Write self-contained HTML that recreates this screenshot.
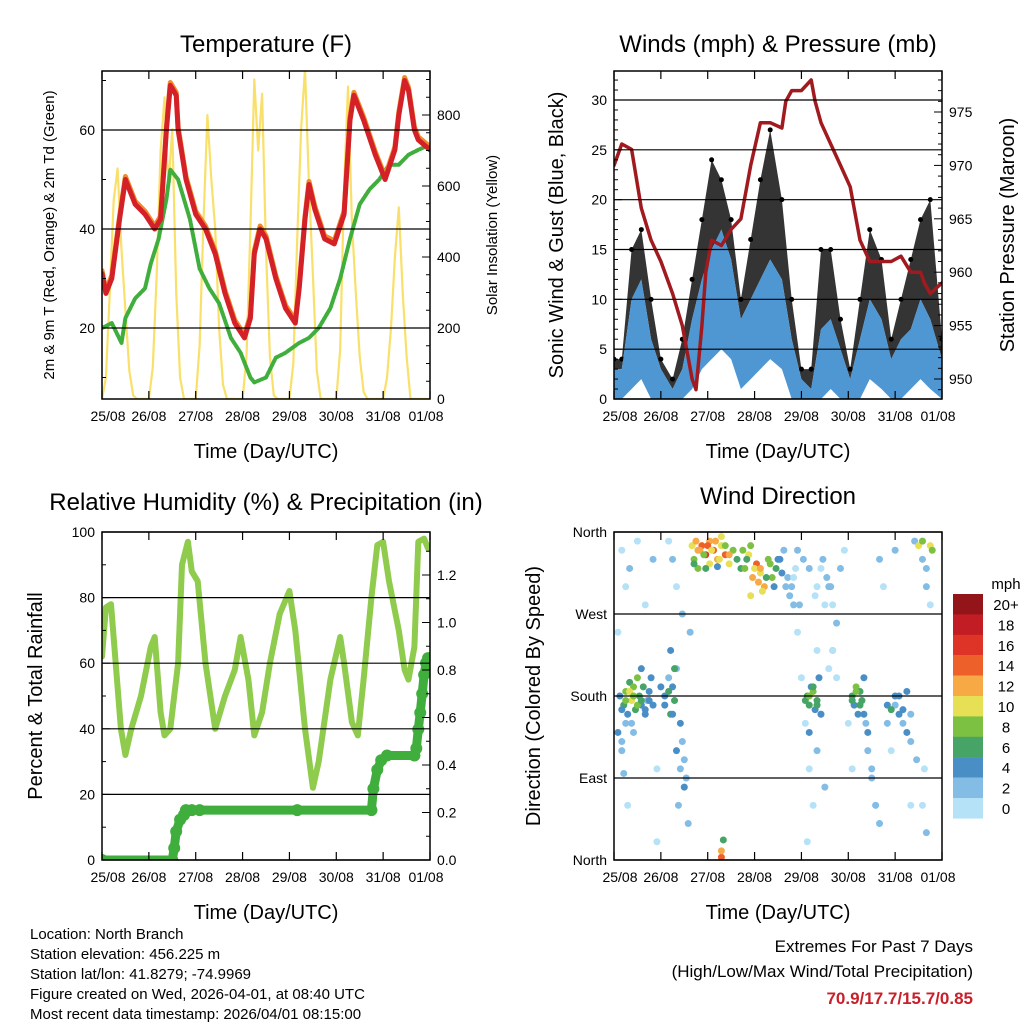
<!DOCTYPE html>
<html><head><meta charset="utf-8"><style>
html,body{margin:0;padding:0;background:#fff;}
svg{display:block;font-family:"Liberation Sans",sans-serif;}
</style></head><body>
<svg id="c" width="1024" height="1024" viewBox="0 0 1024 1024"></svg>
<script>
// ---------- DATA ----------
const dayLabels = ["25/08","26/08","27/08","28/08","29/08","30/08","31/08","01/08"];
const tempHours = [0,2,5,9,12,17,22,27,30,33,35,38,39,43,48,53,58,63,68,73,76,78,81,84,89,94,99,101,104,106,109,114,119,124,127,129,134,140,145,150,152,155,157,160,162,168];
const tempVals  = [31,27,30,42,50,45,43,40,42,60,69,67,60,50,43,40,35,27,21,18,22,35,40,38,30,24,21,28,42,49,44,38,37,43,62,67,62,55,50,56,63,70,68,60,58,56];
const dewHours = [0,5,10,12,17,22,25,29,33,35,39,45,50,55,60,66,71,76,78,84,89,94,101,106,111,117,122,127,132,137,142,147,152,157,162,168];
const dewVals  = [20,21,17,22,26,28,33,38,46,52,50,42,32,28,25,18,15,10,9,10,14,15,17,18,20,24,30,38,45,48,50,53,53,55,56,57];
const solarVals = [0,60,300,560,650,420,250,80,10,0,0,0,
                   0,90,350,700,850,600,760,300,60,0,0,0,
                   0,150,500,800,620,480,200,40,0,0,0,0,
                   0,120,480,900,700,860,420,120,10,0,0,0,
                   0,100,450,760,930,600,350,80,0,0,0,0,
                   0,140,600,880,500,300,120,20,0,0,0,0,
                   0,60,200,400,540,300,120,0,0,0,0,0,0];
const windHours = [0,4,9,14,19,24,30,35,40,45,50,55,60,65,70,75,80,86,91,96,101,106,111,116,121,126,131,137,142,147,152,157,162,168];
const windLo    = [0,0,1,2,0,0,0,0,1,3,4,5,4,1,2,3,4,3,0,0,0,0,1,0,0,0,2,1,0,0,1,2,1,0];
const windHi    = [3,3,10,12,6,3,1,3,8,12,15,17,14,8,10,12,14,12,6,2,1,7,8,5,2,6,10,8,4,6,7,10,8,4];
const gustHi    = [4,4,15,17,10,4,2,6,12,18,24,22,18,10,16,22,27,20,10,3,3,15,15,8,3,10,17,14,6,10,14,18,20,6];
const presHours = [0,4,9,14,19,24,30,35,40,42,45,47,50,55,60,65,70,75,80,86,88,91,96,101,103,106,111,116,121,126,131,137,142,147,152,157,159,162,168];
const presVals  = [970,972,971.5,966,963,961,958,955,950,949,955,960,963,962.5,964,965,970,974,974,973.5,976,977,977,978,976,974,972,970,968,963,961,961,961,961.5,960,960,959,958,959];
const rhHours = [0,2,4.6,7,9.7,12,15,20,25,27,30,32,35,39,41,44,46,49,53,58,63,68,71,75,78,82,86,91,96,99,104,108,111,117,122,124,128,131,134,138,141,144,147,152,155,157,160,162,165,167];
const rhVals  = [62,77,78,60,40,32,40,50,65,68,45,38,40,60,90,97,88,85,60,40,50,58,68,55,38,45,60,75,82,70,40,22,30,55,68,60,42,38,55,80,96,97,85,70,58,55,65,97,98,95];
const rainHours = [0,36,37,38,40,42,43,46,50,100,138,139,141,143,146,160,161,162,163,164,165,166,167];
const rainVals  = [0,0,0.05,0.12,0.17,0.19,0.21,0.21,0.21,0.21,0.21,0.3,0.38,0.42,0.44,0.44,0.47,0.55,0.62,0.7,0.78,0.83,0.85];
const dirHours = [5,6,7,8,9,10,11,12,13,14,15,16,17,18,19,6,10,14,4,5, 4,6,8,12,16,20,2,7,22,22,
  26,28,29,30,31,32,34,35,36,37,33,38,30,32,28,35,39, 41,43,45,47,49,51,53,55,57,59,43,49,55,61,63,65,
  67,69,71,73,75,77,79,81,83,85,87,89,91,93, 55,55,56, 94,96,98,100,102,104,106,108,94,99,104,
  99,100,101,102,103,104,105,106, 110,112,114,116,118,110,112,120,122, 122,123,124,125,126,127,128,129,130,132,134,
  136,138,140,142,144,146,148,150,152,154,156,158,160,162,152,159,144,
  40,42,44,46,48,50,52,54,41,47,53,57,59,
  66,68,70,72,74,76,78,80,82,84,86,88,90,92,70,75,
  3,4,6,8,10,12,14,16,18,20,2,4,9,
  24,26,28,30,32,34,36,31,29,
  92,95,97,100,103,107,109,111,112,114,
  98,100,102,104,106,100,104,108,
  122,124,126,128,130,132,134,136,
  140,142,144,146,148,150,152,155,158,160,162,163,158,160];
const dirDeg = [170,185,160,195,175,190,165,200,180,170,190,160,175,185,200,150,140,210,120,95, 340,300,320,350,280,330,250,60,100,20,
  180,200,160,190,175,210,150,130,110,90,60,40,330,300,350,270,250, 330,340,345,335,350,340,330,345,335,325,320,325,355,340,330,320,
  320,335,310,325,315,300,330,310,320,330,340,310,300,320, 3,10,22, 250,200,150,100,60,300,320,280,340,20,230,
  180,170,190,185,165,175,200,160, 300,280,260,320,340,210,230,150,100, 180,170,190,160,185,175,200,150,120,90,60,
  330,300,150,120,170,180,165,185,160,350,345,350,320,280,60,100,340,
  345,350,340,335,345,340,350,330,325,320,322,345,335,
  340,330,345,320,305,295,310,325,300,330,315,300,290,280,290,320,
  180,165,175,185,180,170,175,165,175,170,140,130,150,
  190,170,185,160,120,100,80,210,230,
  310,280,330,320,290,330,310,300,230,200,
  175,180,190,170,160,140,120,80,
  175,185,170,160,140,100,60,40,
  170,165,180,160,150,140,130,110,60,30,345,340,330,300];
const dirSpd = [6,8,5,7,10,9,6,8,7,5,6,4,3,5,4,3,3,4,2,2, 1,0,2,1,1,2,1,1,0,1,
  4,3,6,5,7,3,4,2,3,2,3,2,2,1,1,2,2, 8,12,14,16,13,15,12,11,14,10,9,11,10,8,7,6,
  8,10,12,14,11,13,9,8,6,4,3,2,2,1, 14,12,6, 1,0,1,0,1,0,1,0,2,1,1,
  6,7,5,8,4,6,5,3, 2,1,2,2,1,1,2,1,1, 6,5,8,4,6,7,4,3,3,2,1,
  2,1,2,1,3,4,5,4,3,3,10,8,2,1,1,1,2,
  10,12,13,9,14,11,12,10,6,6,5,9,12,
  8,6,9,11,12,10,7,8,5,4,4,3,2,2,11,12,
  4,5,8,10,9,8,6,5,4,5,4,3,3,
  4,5,6,4,4,3,4,6,4,
  1,2,2,2,1,2,2,2,1,1,
  6,8,6,7,4,4,3,2,
  7,8,6,4,4,3,2,2,
  5,6,4,4,3,4,2,2,1,2,10,8,2,2];
const scaleLabels = ["20+","18","16","14","12","10","8","6","4","2","0"];
const scaleColors = ["#931519","#c21d24","#de3427","#ee6029","#f6a944","#e7e054","#7dc143","#46a466","#4a8ec6","#83bde6","#b6e2f7"];

// ---------- HELPERS ----------
const NS = "http://www.w3.org/2000/svg";
const svg = document.getElementById("c");
function mk(tag, attrs, parent) {
  const e = document.createElementNS(NS, tag);
  for (const k in attrs) e.setAttribute(k, attrs[k]);
  (parent || svg).appendChild(e);
  return e;
}
function txt(s, x, y, size, anchor, parent, extra) {
  const t = mk("text", Object.assign({x:x, y:y, "font-size":size, "text-anchor":anchor||"middle", fill:"#000"}, extra||{}), parent);
  t.textContent = s;
  return t;
}
function lin(d0, d1, r0, r1) { return v => r0 + (v - d0) / (d1 - d0) * (r1 - r0); }
function colorFor(s) { let i = Math.min(10, Math.floor(s/2)); return scaleColors[10 - i]; }

function panel(id, L, T, R, B) {
  const g = mk("g", {}, svg);
  
  
  const cp = mk("clipPath", {id: id + "-clip"}, g);
  mk("rect", {x:L, y:T, width:R-L, height:B-T}, cp);
  const plot = mk("g", {"clip-path": "url(#" + id + "-clip)"}, g);
  
  
  return {g, plot, L, T, R, B, x: lin(0, 168, L, R)};
}
function frame(p) {
  const r = mk("rect", {x:p.L, y:p.T, width:p.R-p.L, height:p.B-p.T, fill:"none", stroke:"#000", "stroke-width":1.5}, p.g);
  
  
  for (let d = 0; d <= 7; d++) {
    const x = p.x(d * 24);
    mk("line", {x1:x, x2:x, y1:p.B, y2:p.B-8, stroke:"#000", "stroke-width":1.2}, p.g);
    mk("line", {x1:x, x2:x, y1:p.T, y2:p.T+8, stroke:"#000", "stroke-width":1.2}, p.g);
    const t = txt(dayLabels[d], x + (d === 0 ? 6 : (d === 7 ? -4 : 0)), p.B + 22, 14, "middle", p.g);
    
    
  }
  const xt = txt("Time (Day/UTC)", (p.L + p.R) / 2, p.B + 59, 20, "middle", p.g);
  
  
}
function leftAxis(p, y, ticks, labels, grid, minor) {
  if (minor) for (const v of minor) { const yy = y(v); mk("line", {x1:p.L, x2:p.L+4, y1:yy, y2:yy, stroke:"#000"}, p.g); }
  ticks.forEach((v, i) => {
    const yy = y(v);
    if (grid) mk("line", {x1:p.L, x2:p.R, y1:yy, y2:yy, stroke:"#000", "stroke-width":1.2}, p.g);
    mk("line", {x1:p.L, x2:p.L+8, y1:yy, y2:yy, stroke:"#000"}, p.g);
    const t = txt(labels[i], p.L - 7, yy + 5, 14, "end", p.g);
    
    
  });
}
function rightAxis(p, y, ticks, labels, minor) {
  if (minor) for (const v of minor) { const yy = y(v); mk("line", {x1:p.R, x2:p.R-4, y1:yy, y2:yy, stroke:"#000"}, p.g); }
  ticks.forEach((v, i) => {
    const yy = y(v);
    mk("line", {x1:p.R, x2:p.R-8, y1:yy, y2:yy, stroke:"#000"}, p.g);
    const t = txt(labels[i], p.R + 7, yy + 5, 14, "start", p.g);
    
    
  });
}
function vtitle(s, x, y, size, parent, name) {
  const t = txt(s, x, y, size, "middle", parent, {transform: "rotate(-90 " + x + " " + y + ")"});
  
  
}
function polyline(p, xs, ys, xf, yf, attrs, name) {
  const pts = xs.map((h, i) => xf(h).toFixed(1) + "," + yf(ys[i]).toFixed(1)).join(" ");
  const e = mk("polyline", Object.assign({points: pts, fill:"none", "stroke-linejoin":"round", "stroke-linecap":"round"}, attrs), p.plot);
  
  
  return e;
}
function title(s, x, y, parent) {
  const t = txt(s, x, y, 24, "middle", parent);
  
  
}

// ---------- PANEL 1: TEMPERATURE ----------
const p1 = panel("temperature-panel", 102, 71, 430, 399);
const y1 = lin(20, 60, 328, 130);
const ys1 = lin(0, 800, 399, 115);
const solarHours = solarVals.map((v, i) => i * 2);
polyline(p1, solarHours, solarVals, p1.x, ys1, {stroke:"#f9e06a", "stroke-width":2.2}, "solar-insolation-line");
polyline(p1, dewHours, dewVals, p1.x, y1, {stroke:"#3fae3c", "stroke-width":4, "stroke-dasharray":"3 1.5"}, "dewpoint-line");
polyline(p1, tempHours, tempVals.map(v => v + 0.6), p1.x, y1, {stroke:"#f08a2a", "stroke-width":5}, "temp-9m-line");
polyline(p1, tempHours, tempVals, p1.x, y1, {stroke:"#d42127", "stroke-width":5}, "temp-2m-line");
leftAxis(p1, y1, [20,40,60], ["20","40","60"], true, [10,30,50,70]);
rightAxis(p1, ys1, [0,200,400,600,800], ["0","200","400","600","800"], [50,100,150,250,300,350,450,500,550,650,700,750,850,900]);
frame(p1);
title("Temperature (F)", 266, 52, p1.g);
vtitle("2m & 9m T (Red, Orange) & 2m Td (Green)", 54, 235, 15, p1.g, "y-axis-title");
vtitle("Solar Insolation (Yellow)", 497, 235, 15, p1.g, "right-axis-title");

// ---------- PANEL 2: WINDS ----------
const p2 = panel("winds-panel", 614, 71, 942, 399);
const y2 = lin(0, 30, 399, 100);
const yp2 = lin(950, 975, 379, 112);
function band(p, xs, lo, hi, yf, fill, name, op) {
  const top = xs.map((h, i) => p.x(h).toFixed(1) + "," + yf(hi[i]).toFixed(1));
  const bot = xs.map((h, i) => p.x(h).toFixed(1) + "," + yf(lo[i]).toFixed(1)).reverse();
  const e = mk("polygon", {points: top.concat(bot).join(" "), fill: fill, "fill-opacity": op || 1}, p.plot);
  
  
}
band(p2, windHours, windHi, gustHi, y2, "#111", "gust-band", 0.85);
windHours.forEach((h, i) => {
  const c = mk("circle", {cx: p2.x(h), cy: y2(gustHi[i]), r: 2.5, fill: "#000"}, p2.plot);
  
  
});
band(p2, windHours, windLo, windHi, y2, "#4f97d3", "sonic-wind-band");
polyline(p2, presHours, presVals, p2.x, yp2, {stroke:"#a11a1f", "stroke-width":3.5}, "pressure-line");
leftAxis(p2, y2, [0,5,10,15,20,25,30], ["0","5","10","15","20","25","30"], true, [1,2,3,4,6,7,8,9,11,12,13,14,16,17,18,19,21,22,23,24,26,27,28,29,31,32]);
rightAxis(p2, yp2, [950,955,960,965,970,975], ["950","955","960","965","970","975"], [949,951,952,953,954,956,957,958,959,961,962,963,964,966,967,968,969,971,972,973,974,976,977,978]);
frame(p2);
title("Winds (mph) & Pressure (mb)", 778, 52, p2.g);
vtitle("Sonic Wind & Gust (Blue, Black)", 563, 235, 20, p2.g, "y-axis-title");
vtitle("Station Pressure (Maroon)", 1014, 235, 20, p2.g, "right-axis-title");

// ---------- PANEL 3: RH ----------
const p3 = panel("humidity-panel", 102, 532, 430, 860);
const y3 = lin(0, 100, 860, 532);
const yr3 = lin(0, 1.2, 860, 575);
polyline(p3, rhHours, rhVals, p3.x, y3, {stroke:"#8fcb4c", "stroke-width":6}, "humidity-line");
polyline(p3, rainHours, rainVals, p3.x, yr3, {stroke:"#3fae3c", "stroke-width":9}, "precip-line");
rainHours.forEach((h, i) => {
  const c = mk("circle", {cx: p3.x(h), cy: yr3(rainVals[i]), r: 6, fill: "#3fae3c"}, p3.plot);
  
  
});
leftAxis(p3, y3, [0,20,40,60,80,100], ["0","20","40","60","80","100"], true, [10,30,50,70,90]);
rightAxis(p3, yr3, [0,0.2,0.4,0.6,0.8,1.0,1.2], ["0.0","0.2","0.4","0.6","0.8","1.0","1.2"], [0.1,0.3,0.5,0.7,0.9,1.1,1.3]);
frame(p3);
title("Relative Humidity (%) & Precipitation (in)", 266, 510, p3.g);
vtitle("Percent & Total Rainfall", 42, 696, 20, p3.g, "y-axis-title");

// ---------- PANEL 4: WIND DIRECTION ----------
const p4 = panel("direction-panel", 614, 532, 942, 860);
const y4 = lin(0, 360, 860, 532);
dirHours.forEach((h, i) => {
  const c = mk("circle", {cx: p4.x(h), cy: y4(dirDeg[i]), r: 3.5, fill: colorFor(dirSpd[i])}, p4.plot);
  
  
});
leftAxis(p4, y4, [0,90,180,270,360], ["North","East","South","West","North"], true, null);
frame(p4);
title("Wind Direction", 778, 504, p4.g);
vtitle("Direction (Colored By Speed)", 540, 696, 20, p4.g, "y-axis-title");
const lg = mk("g", {}, svg);


txt("mph", 1006, 589, 15, "middle", lg);
scaleLabels.forEach((s, i) => {
  const r = mk("rect", {x: 953, y: 594 + i * 20.4, width: 30, height: 20.6, fill: scaleColors[i]}, lg);
  
  
  const t = txt(s, 1006, 610 + i * 20.4, 15, "middle", lg);
  
  
});

// ---------- FOOTER ----------
const ft = mk("g", {}, svg);


["Location: North Branch","Station elevation: 456.225 m","Station lat/lon: 41.8279; -74.9969","Figure created on Wed, 2026-04-01, at 08:40 UTC","Most recent data timestamp: 2026/04/01 08:15:00"]
  .forEach((s, i) => txt(s, 30, 939 + i * 20, 15, "start", ft));
const ex = mk("g", {}, svg);


txt("Extremes For Past 7 Days", 973, 952, 17, "end", ex);
txt("(High/Low/Max Wind/Total Precipitation)", 973, 977, 17, "end", ex);
txt("70.9/17.7/15.7/0.85", 973, 1004, 17, "end", ex, {fill:"#c8202a", "font-weight":"bold"});
</script>
</body></html>
